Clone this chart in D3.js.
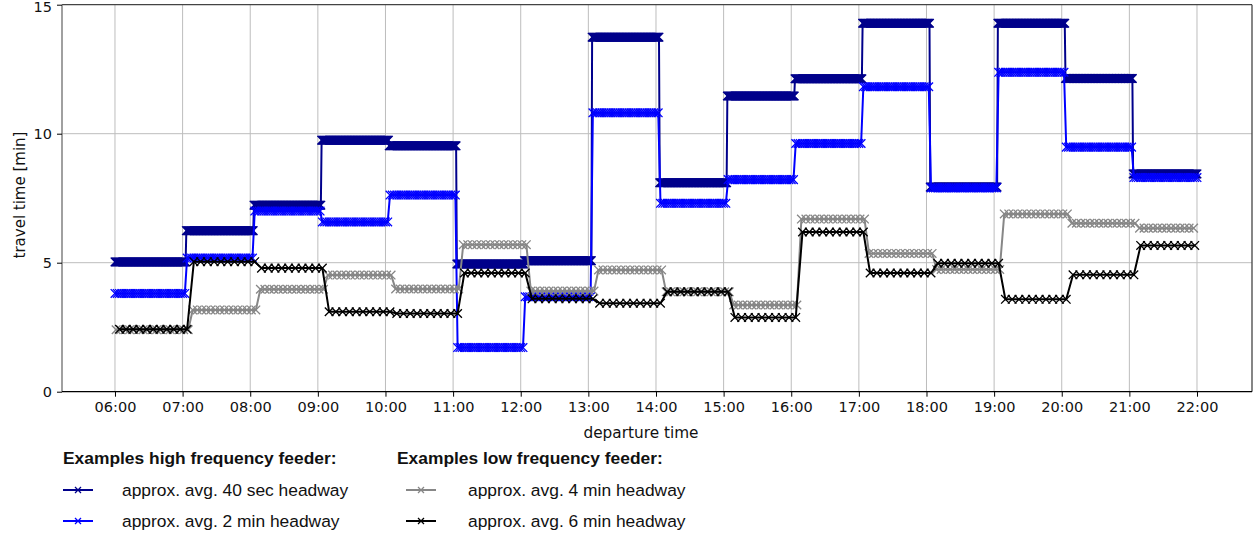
<!DOCTYPE html>
<html>
<head>
<meta charset="utf-8">
<script src="https://cdn.jsdelivr.net/npm/d3@7/dist/d3.min.js"></script>
<style>
  html, body { margin: 0; padding: 0; background: #fff; }
  svg { display: block; }
</style>
</head>
<body>
<svg id="chart" width="1260" height="534"></svg>
<script>
// ---------------- DATA ----------------
// hourly levels (travel time in minutes) for departures in each hour 06:00 ... 21:00
const hourLabels = ["06:00","07:00","08:00","09:00","10:00","11:00","12:00","13:00",
                    "14:00","15:00","16:00","17:00","18:00","19:00","20:00","21:00"];
const tickLabels = ["06:00","07:00","08:00","09:00","10:00","11:00","12:00","13:00",
                    "14:00","15:00","16:00","17:00","18:00","19:00","20:00","21:00","22:00"];
const yTicks = [0, 5, 10, 15];

const levels40sec = [5.03, 6.24, 7.23, 9.75, 9.53, 4.95, 5.08, 13.74, 8.10, 11.46, 12.13, 14.28, 7.93, 14.28, 12.14, 8.44];
const levels2min  = [3.81, 5.18, 7.00, 6.58, 7.62, 1.71, 3.68, 10.81, 7.30, 8.22, 9.62, 11.82, 7.90, 12.38, 9.48, 8.30];
const levels4min  = [2.40, 3.17, 3.97, 4.52, 3.98, 5.70, 3.90, 4.72, 3.87, 3.36, 6.69, 5.36, 4.74, 6.89, 6.53, 6.34];
const levels6min  = [2.42, 5.04, 4.79, 3.10, 3.03, 4.60, 3.60, 3.43, 3.87, 2.88, 6.19, 4.60, 4.98, 3.58, 4.53, 5.67];

const seriesNames   = ["approx. avg. 40 sec headway", "approx. avg. 2 min headway",
                       "approx. avg. 4 min headway", "approx. avg. 6 min headway"];
const headwayMin    = [40/60, 2, 4, 6];   // departure interval (min)
const firstDepMin   = [0, 0, 1, 4];       // first departure after 06:00 (min)
const levelShiftMin = [3, 3, 6, 7];       // level change after full hour (min)
const groupTitles   = ["Examples high frequency feeder:", "Examples low frequency feeder:"];

(function () {
// ---------------- STYLE ----------------
const colors = ["#00008b", "#0000ff", "#878787", "#000000"];
const allLevels = [levels40sec, levels2min, levels4min, levels6min];

const startMin = 6 * 60, endMin = 22 * 60;

function buildSeries(si) {
  const pts = [];
  const lv = allLevels[si];
  for (let k = 0; ; k++) {
    const t = startMin + firstDepMin[si] + k * headwayMin[si];
    if (t > endMin + 1e-9) break;
    let idx = Math.floor((t - startMin - levelShiftMin[si]) / 60);
    idx = Math.max(0, Math.min(lv.length - 1, idx));
    pts.push({ t: t, v: lv[idx] });
  }
  return pts;
}

const svg = d3.select("#chart");
const pL = 62, pR = 1252, pT = 4.7, pB = 391.7;

const x = d3.scaleLinear()
  .domain([startMin - 47, endMin + 48.8])
  .range([pL, pR]);
const y = d3.scaleLinear().domain([0, 15]).range([pB, pT]);

const tickMins = tickLabels.map((d, i) => startMin + i * 60);

// grid
const grid = svg.append("g");
grid.selectAll("line.vg").data(tickMins).enter().append("line")
  .attr("x1", d => x(d)).attr("x2", d => x(d))
  .attr("y1", pT).attr("y2", pB)
  .attr("stroke", "#bdbdbd").attr("stroke-width", 1);
grid.selectAll("line.hg").data(yTicks.filter(v => v > 0 && v < 15)).enter().append("line")
  .attr("x1", pL).attr("x2", pR)
  .attr("y1", d => y(d)).attr("y2", d => y(d))
  .attr("stroke", "#bdbdbd").attr("stroke-width", 1);

// series
svg.append("defs").append("clipPath").attr("id", "clip")
  .append("rect").attr("x", pL).attr("y", pT).attr("width", pR - pL).attr("height", pB - pT);

const plot = svg.append("g").attr("clip-path", "url(#clip)");
const line = d3.line().x(d => x(d.t)).y(d => y(d.v));
const ms = 4.3;
const markerPath = `M${-ms},${-ms}L${ms},${ms}M${-ms},${ms}L${ms},${-ms}`;

allLevels.forEach((lv, si) => {
  const pts = buildSeries(si);
  const g = plot.append("g");
  g.append("path").datum(pts)
    .attr("d", line).attr("fill", "none")
    .attr("stroke", colors[si]).attr("stroke-width", 2).attr("stroke-linejoin", "round");
  g.selectAll("path.m").data(pts).enter().append("path")
    .attr("class", "m")
    .attr("d", markerPath)
    .attr("transform", d => `translate(${x(d.t)},${y(d.v)})`)
    .attr("fill", "none").attr("stroke", colors[si]).attr("stroke-width", 1.3);
});

// spines
svg.append("line").attr("x1", pL).attr("x2", pR).attr("y1", pT).attr("y2", pT)
  .attr("stroke", "#444").attr("stroke-width", 1.3);
svg.append("line").attr("x1", pR).attr("x2", pR).attr("y1", pT).attr("y2", pB)
  .attr("stroke", "#444").attr("stroke-width", 1.3);
svg.append("line").attr("x1", pL).attr("x2", pL).attr("y1", pT).attr("y2", pB)
  .attr("stroke", "#808080").attr("stroke-width", 1.5);

// axes
const xAxis = d3.axisBottom(x).tickValues(tickMins)
  .tickFormat((d, i) => tickLabels[i]).tickSize(5).tickPadding(5).tickSizeOuter(0);
const gx = svg.append("g").attr("transform", `translate(0,${pB})`).call(xAxis);
gx.select(".domain").attr("stroke", "#000").attr("stroke-width", 1.3)
  .attr("d", `M${pL},0H${pR}`);
gx.selectAll(".tick line").attr("stroke", "#000").attr("stroke-width", 1);
gx.selectAll(".tick text").attr("font-family", "DejaVu Sans").attr("font-size", 14.5).attr("fill", "#111");

const yAxis = d3.axisLeft(y).tickValues(yTicks).tickSize(5).tickPadding(5).tickSizeOuter(0);
const gy = svg.append("g").attr("transform", `translate(${pL},0)`).call(yAxis);
gy.select(".domain").remove();
gy.selectAll(".tick line").attr("stroke", "#000").attr("stroke-width", 1);
gy.selectAll(".tick text").attr("font-family", "DejaVu Sans").attr("font-size", 14.5).attr("fill", "#111")
  .attr("dy", d => d === 15 ? "0.45em" : "0.32em");

// axis titles
svg.append("text").attr("x", 641).attr("y", 438).attr("text-anchor", "middle")
  .attr("font-family", "DejaVu Sans").attr("font-size", 15.3).attr("fill", "#111")
  .text("departure time");
svg.append("text").attr("transform", `translate(25,195) rotate(-90)`).attr("text-anchor", "middle")
  .attr("font-family", "DejaVu Sans").attr("font-size", 15).attr("fill", "#111")
  .text("travel time [min]");

// legend
const lg = svg.append("g").attr("font-family", "Liberation Sans, Arial, sans-serif");
const titleX = [63, 397];
groupTitles.forEach((t, i) => {
  lg.append("text").attr("x", titleX[i]).attr("y", 464)
    .attr("font-weight", "bold").attr("font-size", 17.4).attr("fill", "#111").text(t);
});
const legPos = [
  { lx: 63, tx: 122, y: 490 },
  { lx: 63, tx: 122, y: 521 },
  { lx: 406, tx: 468, y: 490 },
  { lx: 406, tx: 468, y: 521 }
];
seriesNames.forEach((name, si) => {
  const p = legPos[si];
  lg.append("line").attr("x1", p.lx).attr("x2", p.lx + 30).attr("y1", p.y).attr("y2", p.y)
    .attr("stroke", colors[si]).attr("stroke-width", 2);
  lg.append("path").attr("d", "M-3,-3L3,3M-3,3L3,-3")
    .attr("transform", `translate(${p.lx + 15},${p.y})`)
    .attr("stroke", colors[si]).attr("stroke-width", 1.3).attr("fill", "none");
  lg.append("text").attr("x", p.tx).attr("y", p.y + 6)
    .attr("font-size", 17.4).attr("fill", "#111").text(name);
});
})();
</script>
</body>
</html>
